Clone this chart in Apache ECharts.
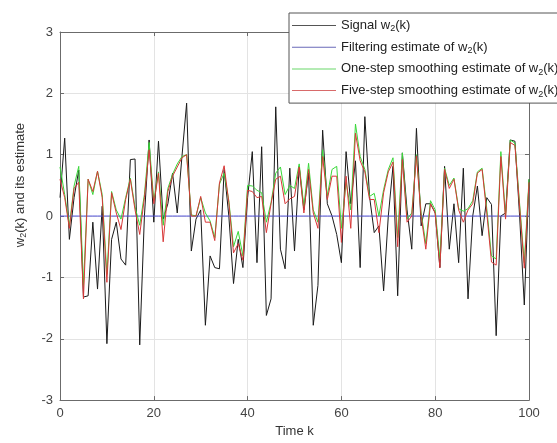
<!DOCTYPE html>
<html>
<head>
<meta charset="utf-8">
<script src="https://cdn.jsdelivr.net/npm/echarts@6/dist/echarts.min.js"></script>
<style>html,body{margin:0;padding:0;background:#fff}#c{width:557px;height:443px}</style>
</head>
<body>
<div id="c"></div>
<script>
const timeK = Array.from({length: 101}, (_, i) => i);
const signal = [0.3,1.27,-0.38,0.3,0.75,-1.32,-1.3,-0.1,-1.19,0.16,
-2.08,-0.38,-0.1,-0.7,-0.8,0.92,0.93,-2.1,0.0,1.24,
-0.1,1.22,-0.05,0.2,0.7,0.05,0.97,1.84,-0.57,-0.05,
0.1,-1.78,-0.65,-0.84,-0.86,0.76,0.0,-1.1,-0.38,-0.84,
0.3,1.05,-0.76,1.13,-1.62,-1.35,1.78,-0.54,-0.86,0.78,
-0.57,0.81,0.1,0.7,-1.78,-1.13,1.4,0.2,0.0,-0.3,
-0.76,1.05,0.2,0.9,-0.84,1.62,0.32,-0.27,-0.16,-1.22,
0.0,0.81,-1.3,1.03,0.1,-0.54,1.43,-0.16,0.2,0.2,
0.05,-0.84,0.81,-0.54,0.2,-0.76,0.78,-1.35,0.0,0.49,
-0.32,0.3,0.19,-1.95,0.0,0.05,1.24,1.22,0.0,-1.45,0.6];
const filtering = [0,0,0,0,0,0,0,0,0,0,0,0,0,0,0,0,0,0,0,0,
0,0,0,0,0,0,0,0,0,0,0,0,0,0,0,0,0,0,0,0,
0,0,0,0,0,0,0,0,0,0,0,0,0,0,0,0,0,0,0,0,
0,0,0,0,0,0,0,0,0,0,0,0,0,0,0,0,0,0,0,0,
0,0,0,0,0,0,0,0,0,0,0,0,0,0,0,0,0,0,0,0,0];
const oneStep = [0.8,0.35,-0.16,0.49,0.81,-1.13,0.6,0.35,0.73,0.35,
-0.95,0.4,0.1,-0.05,0.3,0.62,0.15,-0.15,0.35,1.2,
0.25,0.72,-0.15,0.45,0.68,0.85,0.97,1.0,0.02,0.0,
0.3,0.05,-0.08,-0.35,0.52,0.7,0.25,-0.5,-0.25,-0.65,
0.5,0.49,0.42,0.38,-0.1,0.22,0.7,0.8,0.35,0.5,
0.45,0.85,0.15,0.86,0.1,-0.1,1.08,0.33,0.76,0.81,
-0.2,0.55,0.1,1.5,0.97,0.76,0.32,0.37,0.0,0.43,
0.76,0.95,-0.35,1.03,-0.05,0.05,1.0,0.05,-0.45,0.25,
0.1,-0.7,0.78,0.5,0.62,0.12,0.08,0.12,0.25,0.72,
0.78,0.12,-0.65,-0.7,1.05,0.0,1.24,1.19,0.2,-0.76,0.6];
const fiveStep = [0.6,0.3,-0.2,0.45,0.55,-1.35,0.6,0.4,0.73,0.3,
-1.08,0.38,0.05,-0.22,0.27,0.6,0.1,-0.3,0.3,1.08,
0.2,0.7,-0.42,0.4,0.65,0.8,0.95,1.0,0.0,0.0,
0.32,-0.1,-0.1,-0.4,0.54,0.82,0.22,-0.6,-0.45,-0.72,
0.42,0.4,0.3,0.32,-0.27,0.2,0.6,0.65,0.2,0.28,
0.32,0.8,0.05,0.76,0.05,-0.2,0.97,0.27,0.65,0.65,
-0.43,0.65,-0.2,1.35,0.9,0.72,0.27,0.27,-0.27,0.38,
0.72,0.88,-0.5,0.92,-0.1,0.0,0.98,0.0,-0.54,0.2,
0.05,-0.84,0.76,0.45,0.6,0.1,-0.1,0.1,0.2,0.7,
0.76,0.05,-0.75,-0.8,0.97,-0.05,1.2,1.15,0.15,-0.85,0.55];

const names = ['Signal w2(k)', 'Filtering estimate of w2(k)', 'One-step smoothing estimate of w2(k)', 'Five-step smoothing estimate of w2(k)'];
const legendRich = {
  'Signal w2(k)': 'Signal w{s|2}(k)',
  'Filtering estimate of w2(k)': 'Filtering estimate of w{s|2}(k)',
  'One-step smoothing estimate of w2(k)': 'One-step smoothing estimate of w{s|2}(k)',
  'Five-step smoothing estimate of w2(k)': 'Five-step smoothing estimate of w{s|2}(k)'
};
const FONT = "'Liberation Sans', Arial, sans-serif";
const pair = arr => timeK.map((k, i) => [k, arr[i]]);
const subStyle = c => ({fontSize: 9, color: c, padding: [7, 0, 0, 0], lineHeight: 10, fontFamily: FONT});

const chart = echarts.init(document.getElementById('c'), null, {renderer: 'canvas'});
const axisCommon = {
  axisLine: {show: true, onZero: false, lineStyle: {color: '#6b6b6b', width: 1}},
  axisTick: {show: true, inside: true, length: 4, lineStyle: {color: '#6b6b6b'}},
};
chart.setOption({
  animation: false,
  backgroundColor: '#fff',
  textStyle: {fontFamily: FONT},
  grid: {left: 60, right: 28, top: 32, bottom: 41, containLabel: false},
  legend: {
    orient: 'vertical', left: 289, top: 13,
    backgroundColor: '#fff', borderColor: '#555', borderWidth: 1,
    padding: [4, 6, 4, 3], itemGap: 4.7, itemWidth: 44, itemHeight: 1,
    icon: 'rect',
    selectedMode: false,
    data: names,
    formatter: n => legendRich[n],
    textStyle: {fontSize: 13, color: '#222', fontFamily: FONT, lineHeight: 17,
      rich: {s: subStyle('#222')}}
  },
  xAxis: [Object.assign({
    type: 'value', min: 0, max: 100, interval: 20, position: 'bottom',
    name: 'Time k', nameLocation: 'middle', nameGap: 22,
    nameTextStyle: {fontSize: 13, color: '#333', fontFamily: FONT},
    axisLabel: {fontSize: 13, color: '#444', margin: 7, fontFamily: FONT},
    splitLine: {show: true, lineStyle: {color: '#e3e3e3', width: 1}}
  }, axisCommon), Object.assign({
    type: 'value', min: 0, max: 100, interval: 20, position: 'top',
    axisLabel: {show: false}, splitLine: {show: false}
  }, axisCommon)],
  yAxis: [Object.assign({
    type: 'value', min: -3, max: 3, interval: 1, position: 'left',
    name: 'w{s|2}(k) and its estimate', nameLocation: 'middle', nameGap: 31, nameRotate: 90,
    nameTextStyle: {fontSize: 13, color: '#333', fontFamily: FONT, padding: [0, 0, 0, 62], lineHeight: 17,
      rich: {s: subStyle('#333')}},
    axisLabel: {fontSize: 13, color: '#444', margin: 7, fontFamily: FONT},
    splitLine: {show: true, lineStyle: {color: '#e3e3e3', width: 1}}
  }, axisCommon), Object.assign({
    type: 'value', min: -3, max: 3, interval: 1, position: 'right',
    axisLabel: {show: false}, splitLine: {show: false}
  }, axisCommon)],
  series: [
    {name: names[0], type: 'line', data: pair(signal), symbol: 'none', lineStyle: {color: '#1a1a1a', width: 1}, itemStyle: {color: '#555'}},
    {name: names[1], type: 'line', data: pair(filtering), symbol: 'none', lineStyle: {color: '#5050d8', width: 1}, itemStyle: {color: '#6a6ab8'}},
    {name: names[2], type: 'line', data: pair(oneStep), symbol: 'none', lineStyle: {color: '#38d838', width: 1}, itemStyle: {color: '#6ad86a'}},
    {name: names[3], type: 'line', data: pair(fiveStep), symbol: 'none', lineStyle: {color: '#d83838', width: 1}, itemStyle: {color: '#d86a6a'}}
  ]
});
</script>
</body>
</html>
